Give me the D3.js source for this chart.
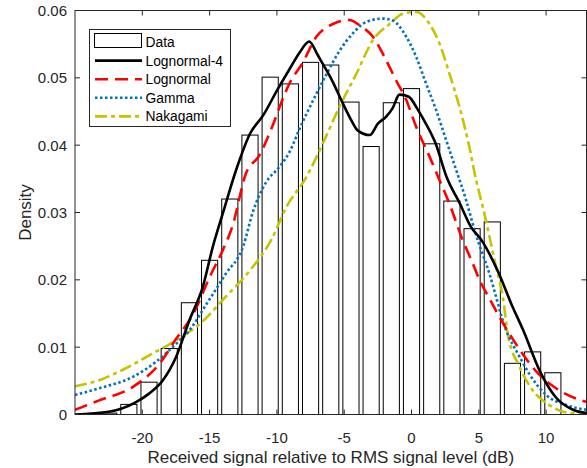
<!DOCTYPE html>
<html>
<head>
<meta charset="utf-8">
<script src="https://cdn.jsdelivr.net/npm/d3@7"></script>
<style>
  body { margin: 0; background: #fff; }
  svg { font-family: 'Liberation Sans', Arial, sans-serif; }
  .tick-label { fill: #262626; font-size: 15px; }
  .axis-label { fill: #262626; font-size: 17px; }
  .legend-text { fill: #000; font-size: 13.8px; }
</style>
</head>
<body>
<svg id="chart" width="587" height="468"></svg>
<script>
// histogram bins (dB centre) and density
const binCenters = [-24, -22.5, -21, -19.5, -18, -16.5, -15, -13.5, -12, -10.5, -9, -7.5, -6, -4.5, -3, -1.5, 0, 1.5, 3, 4.5, 6, 7.5, 9, 10.5];
const binDensity = [0.0001, 0.0002, 0.0015, 0.0048, 0.0098, 0.0166, 0.0229, 0.0320, 0.0415, 0.0501, 0.0491, 0.0523, 0.0519, 0.0464, 0.0398, 0.0463, 0.0484, 0.0402, 0.0317, 0.0276, 0.0286, 0.0076, 0.0093, 0.0062];

// fitted curves
const logn4X = [-25, -22.5, -20.5, -19.5, -18.5, -17.5, -16.5, -15.5, -14.75, -14, -13, -12, -11, -10, -9, -8.3, -7.6, -7, -6.6, -6, -5.1, -4.5, -4, -3.1, -2.5, -1.9, -1.4, -0.9, -0.2, 0.4, 0.84, 1.8, 2.6, 3.6, 4.4, 5.2, 6.5, 7.4, 8.3, 9.5, 10.7, 12, 13];
const logn4Y = [0.0000, 0.0004, 0.0018, 0.0031, 0.0050, 0.0085, 0.0140, 0.0190, 0.0250, 0.0300, 0.0365, 0.0417, 0.0445, 0.0481, 0.0515, 0.0538, 0.0554, 0.0535, 0.0521, 0.0500, 0.0462, 0.0438, 0.0422, 0.0415, 0.0432, 0.0442, 0.0455, 0.0475, 0.0472, 0.0455, 0.0440, 0.0402, 0.0353, 0.0313, 0.0279, 0.0259, 0.0209, 0.0165, 0.0125, 0.0066, 0.0026, 0.0007, 0.0002];

const lognX = [-25, -23.2, -20.7, -18.7, -17.5, -16.2, -15, -14, -13.3, -12.3, -11.3, -10.3, -9.7, -9.06, -8.1, -7.07, -5.84, -4.6, -3.86, -2.87, -1.88, -1.14, -0.39, 0.35, 1.34, 2.08, 2.82, 3.8, 4.43, 5.17, 5.66, 6.53, 7.27, 8.26, 9.4, 10.74, 12.47, 13];
const lognY = [0.0007, 0.0021, 0.0041, 0.0076, 0.0112, 0.0150, 0.0204, 0.0245, 0.0280, 0.0358, 0.0385, 0.0430, 0.0462, 0.0492, 0.0522, 0.0561, 0.0580, 0.0586, 0.0578, 0.0561, 0.0526, 0.0496, 0.0467, 0.0427, 0.0383, 0.0348, 0.0313, 0.0259, 0.0230, 0.0195, 0.0177, 0.0145, 0.0120, 0.0090, 0.0061, 0.0039, 0.0022, 0.0019];

const gammaX = [-25, -23.2, -20.7, -19, -17.7, -16.5, -15.2, -13.8, -12.5, -11.8, -10.8, -9.8, -9.06, -8.3, -7.3, -6.3, -5.35, -4.36, -3.36, -2.13, -1.39, -0.39, 0.35, 1.09, 1.83, 2.58, 3.32, 4.06, 4.68, 5.79, 7.03, 8.02, 8.76, 10, 11.5, 13];
const gammaY = [0.0029, 0.0039, 0.0056, 0.0078, 0.0101, 0.0125, 0.0165, 0.0209, 0.0250, 0.0300, 0.0345, 0.0368, 0.0390, 0.0425, 0.0467, 0.0506, 0.0540, 0.0566, 0.0583, 0.0588, 0.0585, 0.0561, 0.0531, 0.0491, 0.0452, 0.0407, 0.0363, 0.0318, 0.0274, 0.0209, 0.0125, 0.0086, 0.0060, 0.0029, 0.0014, 0.0007];

const nakaX = [-25, -23.2, -21.2, -19.2, -17.5, -15.7, -13.8, -12, -10.4, -9.3, -7.8, -6.6, -5.35, -4.1, -2.87, -1.63, -0.65, 0.35, 1.34, 2.08, 2.82, 3.56, 4.3, 4.8, 5.3, 5.79, 6.28, 6.78, 7.15, 8.02, 9, 10.24, 11.5, 13];
const nakaY = [0.0042, 0.0051, 0.0069, 0.0091, 0.0110, 0.0135, 0.0175, 0.0214, 0.0260, 0.0308, 0.0353, 0.0402, 0.0457, 0.0506, 0.0556, 0.0580, 0.0595, 0.0598, 0.0580, 0.0551, 0.0506, 0.0457, 0.0397, 0.0348, 0.0308, 0.0264, 0.0219, 0.0175, 0.0120, 0.0071, 0.0036, 0.0014, 0.0003, 0.0001];

const xTicks = [-20, -15, -10, -5, 0, 5, 10];
const yTicks = [0, 0.01, 0.02, 0.03, 0.04, 0.05, 0.06];
const legendNames = ['Data', 'Lognormal-4', 'Lognormal', 'Gamma', 'Nakagami'];

const series = [
  { name: 'Lognormal-4', xs: logn4X, ys: logn4Y, color: '#000000', dash: null },
  { name: 'Lognormal', xs: lognX, ys: lognY, color: '#ff0000', dash: '13,7' },
  { name: 'Gamma', xs: gammaX, ys: gammaY, color: '#0072bd', dash: '2.5,2.5' },
  { name: 'Nakagami', xs: nakaX, ys: nakaY, color: '#c4c400', dash: '12,4,4,4' },
];

const svg = d3.select('#chart');
const xScale = d3.scaleLinear().domain([-25, 13]).range([75, 586.5]);
const yScale = d3.scaleLinear().domain([0, 0.06]).range([414.5, 10.5]);
const plotLeft = xScale.range()[0], plotRight = xScale.range()[1];
const plotTop = yScale.range()[1], plotBottom = yScale.range()[0];

svg.append('defs').append('clipPath').attr('id', 'plotClip')
  .append('rect')
  .attr('x', plotLeft).attr('y', plotTop)
  .attr('width', plotRight - plotLeft).attr('height', plotBottom - plotTop);

const plot = svg.append('g').attr('clip-path', 'url(#plotClip)');

// bars, width 0.8 of bin spacing
const binStep = 1.5;
plot.append('g').selectAll('rect')
  .data(binCenters)
  .enter()
  .append('rect')
  .attr('x', (d) => xScale(d - binStep * 0.4))
  .attr('width', (d) => xScale(d + binStep * 0.4) - xScale(d - binStep * 0.4))
  .attr('y', (d, i) => yScale(binDensity[i]))
  .attr('height', (d, i) => yScale(0) - yScale(binDensity[i]))
  .attr('fill', '#fff')
  .attr('stroke', '#000')
  .attr('stroke-width', 1);

const lineGen = d3.line()
  .x((d) => xScale(d[0]))
  .y((d) => yScale(d[1]))
  .curve(d3.curveMonotoneX);

// draw in reverse order so Lognormal-4 sits on top
series.slice().reverse().forEach((s) => {
  plot.append('path')
    .datum(s.xs.map((x, i) => [x, s.ys[i]]))
    .attr('d', lineGen)
    .attr('fill', 'none')
    .attr('stroke', s.color)
    .attr('stroke-width', 2.6)
    .attr('stroke-dasharray', s.dash);
});

// axes box with inward ticks
const axisColor = '#262626';
const axes = svg.append('g');
axes.append('rect')
  .attr('x', plotLeft).attr('y', plotTop)
  .attr('width', plotRight - plotLeft).attr('height', plotBottom - plotTop)
  .attr('fill', 'none').attr('stroke', axisColor).attr('stroke-width', 1);

xTicks.forEach((t) => {
  const x = xScale(t);
  axes.append('line').attr('x1', x).attr('x2', x).attr('y1', plotBottom).attr('y2', plotBottom - 5).attr('stroke', axisColor);
  axes.append('line').attr('x1', x).attr('x2', x).attr('y1', plotTop).attr('y2', plotTop + 5).attr('stroke', axisColor);
  axes.append('text')
    .attr('class', 'tick-label')
    .attr('x', x)
    .attr('y', plotBottom + 28)
    .attr('text-anchor', 'middle')
    .text(t < 0 ? '-' + Math.abs(t) : t);
});

yTicks.forEach((t) => {
  const y = yScale(t);
  axes.append('line').attr('x1', plotLeft).attr('x2', plotLeft + 5).attr('y1', y).attr('y2', y).attr('stroke', axisColor);
  axes.append('line').attr('x1', plotRight).attr('x2', plotRight - 5).attr('y1', y).attr('y2', y).attr('stroke', axisColor);
  axes.append('text')
    .attr('class', 'tick-label')
    .attr('x', plotLeft - 8)
    .attr('y', y + 5.5)
    .attr('text-anchor', 'end')
    .text(t === 0 ? '0' : d3.format('.2f')(t));
});

axes.append('text')
  .attr('class', 'axis-label')
  .attr('x', (plotLeft + plotRight) / 2)
  .attr('y', 463)
  .attr('text-anchor', 'middle')
  .text('Received signal relative to RMS signal level (dB)');

axes.append('text')
  .attr('class', 'axis-label')
  .attr('transform', 'translate(31,' + (plotTop + plotBottom) / 2 + ') rotate(-90)')
  .attr('text-anchor', 'middle')
  .text('Density');

// legend
const legend = svg.append('g');
legend.append('rect')
  .attr('x', 89.5).attr('y', 29.5)
  .attr('width', 141).attr('height', 97)
  .attr('fill', '#fff').attr('stroke', axisColor).attr('stroke-width', 1);

legendNames.forEach((name, i) => {
  const cy = 42 + i * 18.6;
  if (i === 0) {
    legend.append('rect')
      .attr('x', 94.5).attr('y', cy - 8.5)
      .attr('width', 47).attr('height', 14)
      .attr('fill', '#fff').attr('stroke', '#000');
  } else {
    const s = series[i - 1];
    legend.append('line')
      .attr('x1', 95).attr('x2', 142)
      .attr('y1', cy).attr('y2', cy)
      .attr('stroke', s.color)
      .attr('stroke-width', 2.6)
      .attr('stroke-dasharray', s.dash);
  }
  legend.append('text')
    .attr('class', 'legend-text')
    .attr('x', 145.5)
    .attr('y', cy + 5)
    .text(name);
});
</script>
</body>
</html>
